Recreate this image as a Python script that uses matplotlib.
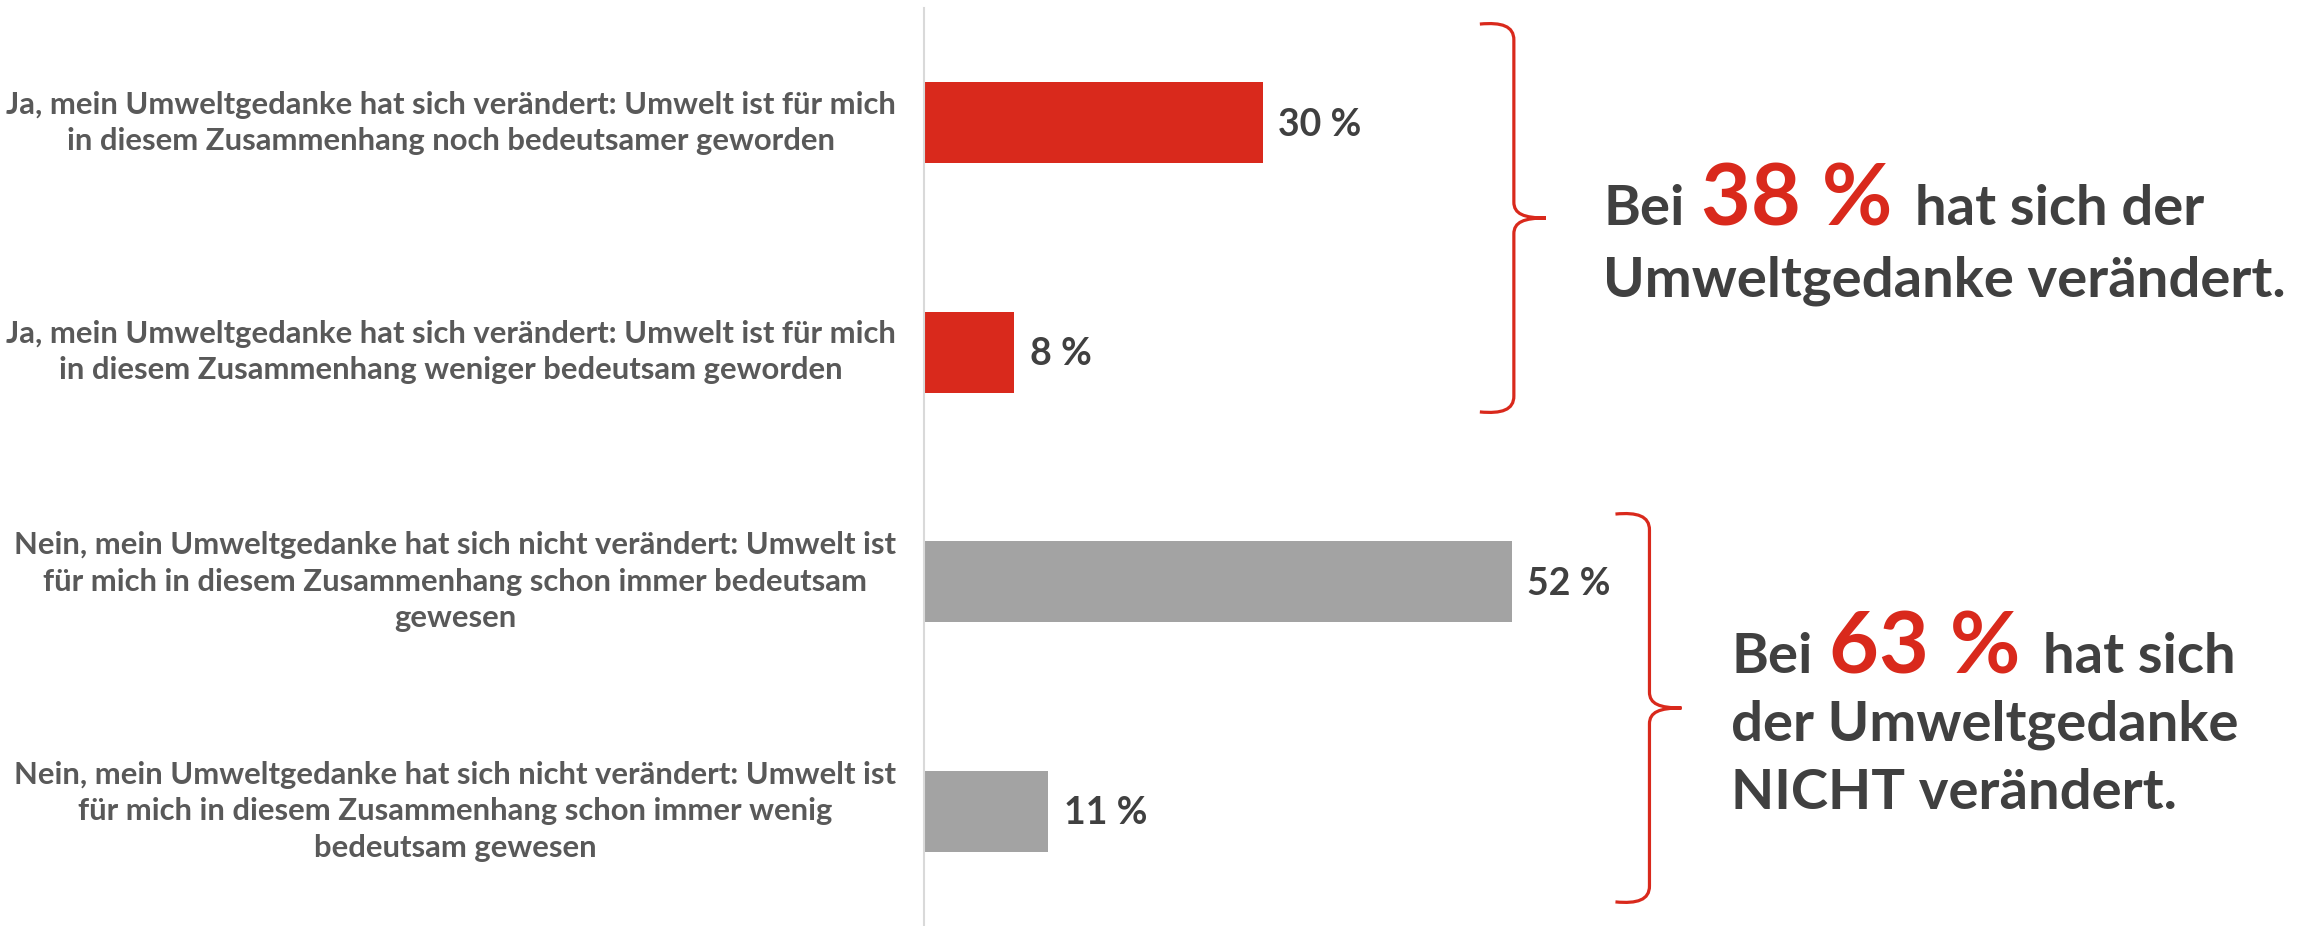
import numpy as np
import matplotlib
matplotlib.use("Agg")
import matplotlib.pyplot as plt
from matplotlib import font_manager
from matplotlib.path import Path
from matplotlib.patches import PathPatch
from matplotlib.transforms import IdentityTransform

# data
labels = [
    "Ja, mein Umweltgedanke hat sich verändert: Umwelt ist für mich\nin diesem Zusammenhang noch bedeutsamer geworden",
    "Ja, mein Umweltgedanke hat sich verändert: Umwelt ist für mich\nin diesem Zusammenhang weniger bedeutsam geworden",
    "Nein, mein Umweltgedanke hat sich nicht verändert: Umwelt ist\nfür mich in diesem Zusammenhang schon immer bedeutsam\ngewesen",
    "Nein, mein Umweltgedanke hat sich nicht verändert: Umwelt ist\nfür mich in diesem Zusammenhang schon immer wenig\nbedeutsam gewesen",
]
values = [30, 8, 52, 11]
groups = ["ja", "ja", "nein", "nein"]
group_totals = {"ja": 38, "nein": 63}

RED = "#D9291C"
GREY_BAR = "#A3A3A3"
DARK = "#404040"
LABEL_COL = "#595959"

names = {f.name for f in font_manager.fontManager.ttflist}
main_font = "Lato" if "Lato" in names else "DejaVu Sans"

W, H = 2310, 926
fig = plt.figure(figsize=(W / 100, H / 100), dpi=100)
ax = fig.add_axes([924 / W, 0, (W - 924) / W, 918 / H])

colors = [RED if g == "ja" else GREY_BAR for g in groups]
ypos = np.arange(len(values))
ax.barh(ypos, values, height=0.353, color=colors)
ax.set_xlim(0, (W - 924) / 11.3)
ax.set_ylim(3.5, -0.5)

for s in ["top", "right", "bottom"]:
    ax.spines[s].set_visible(False)
ax.spines["left"].set_color("#D9D9D9")
ax.spines["left"].set_linewidth(1.5)
ax.set_xticks([])
ax.set_yticks(ypos)
ax.set_yticklabels(labels, fontfamily=main_font, fontsize=22.3,
                   fontweight="bold", color=LABEL_COL, ha="right",
                   multialignment="center", linespacing=1.36)
for lbl in ax.get_yticklabels():
    lbl.set_va("center")
ax.tick_params(axis="y", length=0, pad=20)

for y, v in zip(ypos, values):
    ax.annotate(f"{v} %", xy=(v, y), xytext=(11, -9.5), textcoords="offset points",
                va="baseline", ha="left", fontfamily=main_font, fontsize=27,
                fontweight="bold", color=DARK)

# braces, drawn in data coords from pixel offsets
px_x = 11.3
px_y = 918 / 4.0


def brace(x_v, y_top, y_bot, arm=34, tip=32, r=16):
    xt = lambda d: x_v + d / px_x
    yt = lambda d: d / px_y
    ym = (y_top + y_bot) / 2
    verts = [
        (xt(-arm), y_top),
        (xt(-12), y_top - yt(2)), (xt(0), y_top + yt(2)), (xt(0), y_top + yt(r)),
        (xt(0), ym - yt(r)),
        (xt(0), ym - yt(4)), (xt(10), ym), (xt(tip), ym),
        (xt(10), ym), (xt(0), ym + yt(4)), (xt(0), ym + yt(r)),
        (xt(0), y_bot - yt(r)),
        (xt(0), y_bot - yt(2)), (xt(-12), y_bot + yt(2)), (xt(-arm), y_bot),
    ]
    codes = [Path.MOVETO,
             Path.CURVE4, Path.CURVE4, Path.CURVE4,
             Path.LINETO,
             Path.CURVE4, Path.CURVE4, Path.CURVE4,
             Path.CURVE4, Path.CURVE4, Path.CURVE4,
             Path.LINETO,
             Path.CURVE4, Path.CURVE4, Path.CURVE4]
    ax.add_patch(PathPatch(Path(verts, codes), fill=False, edgecolor=RED,
                           lw=2.3, clip_on=False, capstyle="butt"))


brace(52.2, -0.43, 1.26)
brace(64.2, 1.705, 3.395)

# rich text annotations (pixel positions, baseline from top)
renderer = fig.canvas.get_renderer()


def rich_line(x, y_top_px, parts):
    for txt, size, col, gap in parts:
        t = fig.text(x, H - y_top_px, txt, transform=IdentityTransform(),
                     fontfamily=main_font, fontsize=size, fontweight="bold",
                     color=col, va="baseline", ha="left")
        bb = t.get_window_extent(renderer)
        x = bb.x1 + gap


ja = group_totals["ja"]
nein = group_totals["nein"]
rich_line(1603, 225, [("Bei", 40.5, DARK, 17), (f"{ja} %", 62, RED, 22), ("hat sich der", 40.5, DARK, 0)])
rich_line(1603, 296, [("Umweltgedanke verändert.", 40.5, DARK, 0)])
rich_line(1731, 673, [("Bei", 40.5, DARK, 17), (f"{nein} %", 62, RED, 22), ("hat sich", 40.5, DARK, 0)])
rich_line(1731, 741, [("der Umweltgedanke", 40.5, DARK, 0)])
rich_line(1731, 809, [("NICHT verändert.", 40.5, DARK, 0)])

fig.savefig("out.png", dpi=100)
